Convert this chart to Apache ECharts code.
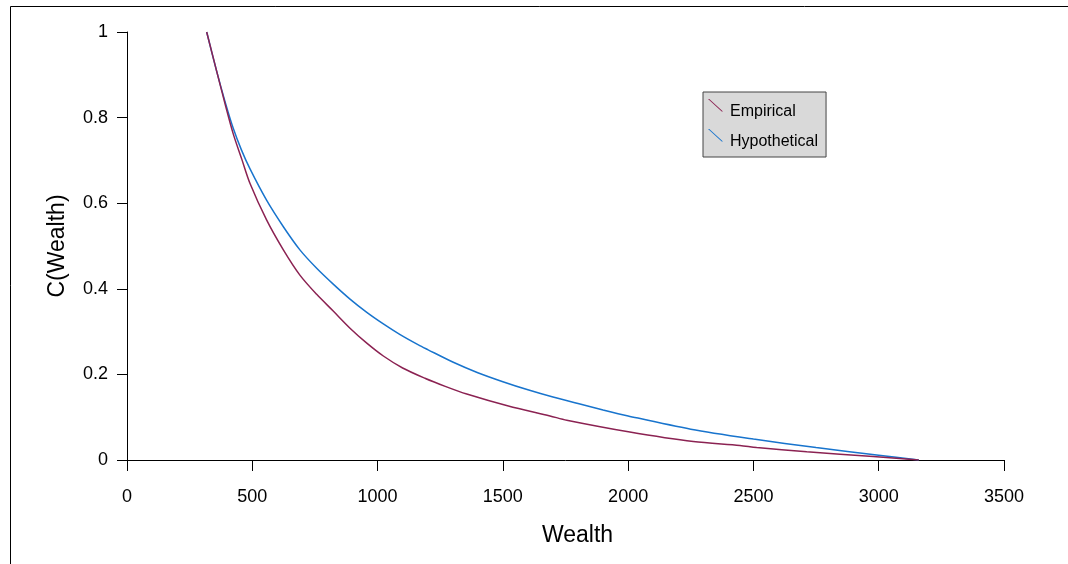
<!DOCTYPE html>
<html>
<head>
<meta charset="utf-8">
<script src="https://cdn.jsdelivr.net/npm/echarts@6/dist/echarts.min.js"></script>
<style>
html,body{margin:0;padding:0;background:#fff;}
#chart{width:1068px;height:564px;}
</style>
</head>
<body>
<div id="chart"></div>
<script>
// Data
const seriesNames = ['Empirical', 'Hypothetical'];
const xTicks = [0, 500, 1000, 1500, 2000, 2500, 3000, 3500];
const yTicks = [0, 0.2, 0.4, 0.6, 0.8, 1];

const empiricalWealth = [318, 358, 391, 424, 458, 491, 557, 624, 690, 757, 823, 890, 957, 1023, 1100, 1189, 1270, 1356, 1522, 1688, 1755, 2001, 2260, 2446, 2513, 2713, 2978, 3160];
const empiricalC      = [1.0, 0.908, 0.833, 0.762, 0.703, 0.646, 0.561, 0.491, 0.432, 0.387, 0.348, 0.308, 0.273, 0.243, 0.215, 0.191, 0.172, 0.154, 0.126, 0.103, 0.093, 0.066, 0.043, 0.034, 0.029, 0.019, 0.008, 0];

const hypotheticalWealth = [318, 358, 391, 424, 457, 491, 557, 624, 690, 757, 823, 890, 957, 1023, 1090, 1163, 1200, 1300, 1400, 1500, 1600, 1700, 1800, 1900, 2000, 2250, 2500, 2750, 3000, 3160];
const hypotheticalC      = [1.0, 0.908, 0.838, 0.775, 0.724, 0.680, 0.607, 0.545, 0.491, 0.448, 0.411, 0.376, 0.345, 0.318, 0.293, 0.269, 0.258, 0.229, 0.204, 0.183, 0.164, 0.147, 0.132, 0.117, 0.103, 0.072, 0.049, 0.029, 0.011, 0];

const pairs = (xs, ys) => xs.map((x, i) => [x, ys[i]]);

const FONT = 'Liberation Sans, Arial, Helvetica, sans-serif';
const chart = echarts.init(document.getElementById('chart'), null, {renderer: 'canvas'});

const option = {
  backgroundColor: '#ffffff',
  animation: false,
  graphic: [{
    type: 'rect',
    shape: {x: 10.5, y: 6.5, width: 1200, height: 700},
    style: {fill: 'none', stroke: '#000', lineWidth: 1},
    silent: true,
    z: -1
  }],
  grid: {left: 127, top: 32, width: 877, height: 428, containLabel: false},
  legend: {
    orient: 'vertical',
    left: 703,
    top: 92,
    data: seriesNames,
    backgroundColor: '#d9d9d9',
    borderColor: '#444',
    borderWidth: 1,
    borderRadius: 0,
    padding: [7, 8, 2, 5],
    itemGap: 4,
    itemWidth: 15,
    itemHeight: 26,
    // thin diagonal stroke in the upper half; a vanishing dot at the bottom keeps the icon box tall
    icon: 'path://M0,0 L1.3,0 L15,12.5 L13.7,12.5 Z M0,26 L0.01,26 L0,25.99 Z',
    textStyle: {fontFamily: FONT, fontSize: 16, color: '#000', padding: [0, 0, 0, 2]}
  },
  xAxis: {
    type: 'value',
    min: 0, max: 3500, interval: 500,
    name: 'Wealth',
    nameLocation: 'middle',
    nameGap: 64,
    nameTextStyle: {fontFamily: FONT, fontSize: 23, color: '#000', padding: [0, 0, 0, 24]},
    axisLine: {show: true, onZero: false, lineStyle: {color: '#000', width: 1}},
    axisTick: {show: true, length: 11, lineStyle: {color: '#000'}},
    axisLabel: {fontFamily: FONT, fontSize: 18, color: '#000', margin: 28,
      formatter: v => xTicks.includes(v) ? String(v) : ''},
    splitLine: {show: false}
  },
  yAxis: {
    type: 'value',
    min: 0, max: 1, interval: 0.2,
    name: 'C(Wealth)',
    nameLocation: 'middle',
    nameGap: 58,
    nameRotate: 90,
    nameTextStyle: {fontFamily: FONT, fontSize: 23, color: '#000'},
    axisLine: {show: true, onZero: false, lineStyle: {color: '#000', width: 1}},
    axisTick: {show: true, length: 10, lineStyle: {color: '#000'}},
    axisLabel: {fontFamily: FONT, fontSize: 18, color: '#000', margin: 19,
      formatter: v => {
        const t = yTicks.find(y => Math.abs(y - v) < 1e-9);
        return t === undefined ? '' : String(t);
      }},
    splitLine: {show: false}
  },
  series: [
    {
      name: seriesNames[0],
      type: 'line',
      data: pairs(empiricalWealth, empiricalC),
      showSymbol: false,
      smooth: 0.3,
      color: '#8B2252',
      lineStyle: {color: '#8B2252', width: 1.5},
      z: 3
    },
    {
      name: seriesNames[1],
      type: 'line',
      data: pairs(hypotheticalWealth, hypotheticalC),
      showSymbol: false,
      smooth: 0.3,
      color: '#1874CD',
      lineStyle: {color: '#1874CD', width: 1.5},
      z: 2
    }
  ]
};
chart.setOption(option);
</script>
</body>
</html>
